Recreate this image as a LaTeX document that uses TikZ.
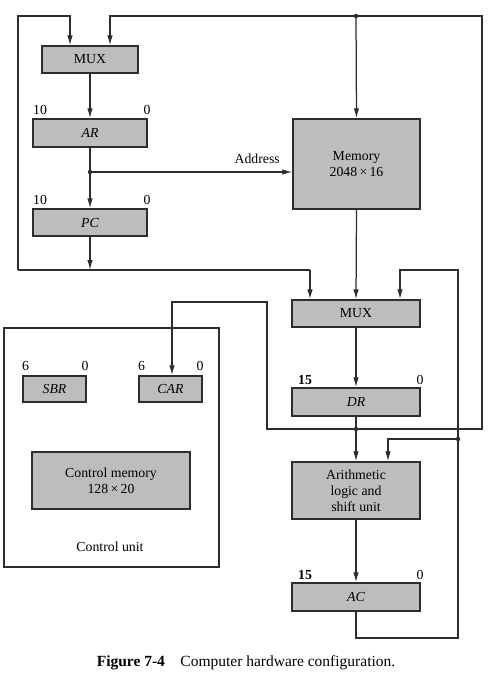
\documentclass[tikz,border=0pt]{standalone}
\usepackage{fontspec}
\setmainfont{Liberation Serif}
\usetikzlibrary{arrows.meta}
\definecolor{boxgray}{RGB}{190,188,188}
\definecolor{ink}{RGB}{45,45,45}
\tikzset{
  blk/.style={draw=ink, line width=1.3pt, fill=boxgray, inner sep=0pt, align=center,
    font=\fontsize{13.8}{16}\selectfont},
  lbl/.style={inner sep=0pt, font=\fontsize{13.8}{16}\selectfont},
  wire/.style={draw=ink, line width=1.25pt},
  arr/.style={wire, -{Latex[length=10pt,width=5.5pt]}},
  dot/.style={circle, fill=ink, inner sep=0pt, minimum size=4.5pt}
}
\begin{document}
\begin{tikzpicture}[x=1pt,y=-1pt]
\useasboundingbox (0,0) rectangle (489,684);
% blocks
\node[blk, minimum width=96pt, minimum height=27pt] (mux1) at (90,59.5) {MUX};
\node[blk, minimum width=114pt, minimum height=28pt] (ar) at (90,133) {\itshape AR};
\node[blk, minimum width=114pt, minimum height=27pt] (pc) at (90,222.5) {\itshape PC};
\node[blk, minimum width=127pt, minimum height=90pt] (mem) at (356.5,164) {Memory\\2048\,×\,16};
\node[blk, minimum width=128pt, minimum height=27pt] (mux2) at (356,313.5) {MUX};
\node[blk, minimum width=128pt, minimum height=28pt] (dr) at (356,402) {\itshape DR};
\node[blk, minimum width=128pt, minimum height=57pt] (alu) at (356,490.5) {Arithmetic\\logic and\\shift unit};
\node[blk, minimum width=128pt, minimum height=28pt] (ac) at (356,597) {\itshape AC};
% control unit
\node[draw=ink, line width=1.25pt, minimum width=215pt, minimum height=239pt, inner sep=0pt] (cu) at (111.5,447.5) {};
\node[blk, minimum width=63pt, minimum height=26pt] (sbr) at (54.5,389) {\itshape SBR};
\node[blk, minimum width=63pt, minimum height=26pt] (car) at (170.5,389) {\itshape CAR};
\node[blk, minimum width=158pt, minimum height=57pt] (cm) at (111,480.5) {Control memory\\128\,×\,20};
\node[lbl] (cul) at (110,547) {Control unit};
% bit labels
\node[lbl, anchor=west] (ar10) at (33,110) {10};
\node[lbl] (ar0) at (147,110) {0};
\node[lbl, anchor=west] (pc10) at (33,200) {10};
\node[lbl] (pc0) at (147,200) {0};
\node[lbl, anchor=west] (sbr6) at (22,366) {6};
\node[lbl] (sbr0) at (85,366) {0};
\node[lbl, anchor=west] (car6) at (138,366) {6};
\node[lbl] (car0) at (200,366) {0};
\node[lbl, anchor=west, font=\fontsize{13.8}{16}\selectfont\bfseries] (dr15) at (298,380) {15};
\node[lbl] (dr0) at (420,380) {0};
\node[lbl, anchor=west, font=\fontsize{13.8}{16}\selectfont\bfseries] (ac15) at (298,575) {15};
\node[lbl] (ac0) at (420,575) {0};
% coordinates
\coordinate (jaddr) at (90,172);
\coordinate (jtop) at (356,16);
\coordinate (jdr) at (356,429);
\coordinate (jac) at (458,439);
\coordinate (busL) at (18,270);
\coordinate (busR) at (310,270);
\coordinate (pcbus) at (90,270);
% AR / PC / MUX1
\draw[arr] (mux1.south) -- (ar.north);
\draw[wire] (ar.south) -- (jaddr);
\draw[arr] (jaddr) -- (pc.north);
\draw[arr] (jaddr) -- (mem.west |- jaddr);
\node[lbl, anchor=east] (addr) at (280,159) {Address};
\draw[arr] (pc.south) -- (pcbus);
\draw[wire] (busL) -- (busR);
\draw[arr] (busR) -- (busR |- mux2.north);
\draw[arr] (busL) -- (18,16) -- (70,16) -- (70,0 |- mux1.north);
% DR output bus
\draw[wire] (dr.south) -- (jdr);
\draw[arr] (jdr) -- (alu.north);
\draw[arr] (jdr) -- (482,429) -- (482,16) -- (110,16) -- (110,0 |- mux1.north);
\draw[arr] (jtop) -- (mem.north);
\draw[arr] (jdr) -- (267,429) -- (267,302) -- (172,302) -- (172,0 |- car.north);
% memory / mux2 / dr
\draw[arr] (mem.south) -- (mux2.north);
\draw[arr] (mux2.south) -- (dr.north);
\draw[arr] (alu.south) -- (ac.north);
% AC output
\draw[arr] (ac.south) -- (356,638) -- (458,638) -- (458,270) -- (400,270) -- (400,0 |- mux2.north);
\draw[arr] (jac) -- (388,439) -- (388,0 |- alu.north);
% junctions
\node[dot] (d1) at (jaddr) {};
\node[dot] (d2) at (jtop) {};
\node[dot] (d3) at (jdr) {};
\node[dot] (d4) at (jac) {};
% caption
\node[lbl, font=\fontsize{15.5}{17}\selectfont] (cap) at (246,663) {\textbf{Figure 7-4}\quad Computer hardware configuration.};
\end{tikzpicture}
\end{document}
